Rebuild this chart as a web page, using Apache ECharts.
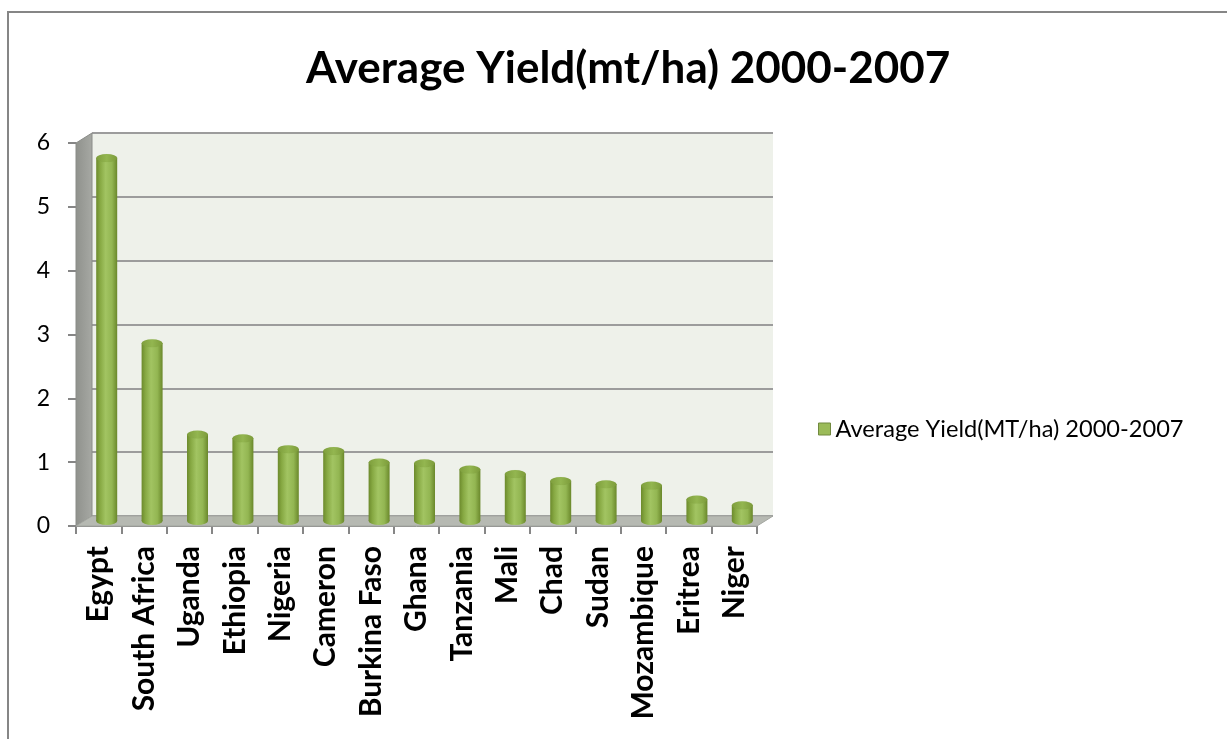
<!DOCTYPE html>
<html>
<head>
<meta charset="utf-8">
<title>Average Yield(mt/ha) 2000-2007</title>
<script src="https://cdn.jsdelivr.net/npm/echarts@6/dist/echarts.min.js"></script>
<style>
  html, body { margin: 0; padding: 0; background: #ffffff; }
  #chart { width: 1227px; height: 739px; }
</style>
</head>
<body>
<div id="chart"></div>
<script>
// Country names along the category axis
const countries = ['Egypt', 'South Africa', 'Uganda', 'Ethiopia', 'Nigeria', 'Cameron',
  'Burkina Faso', 'Ghana', 'Tanzania', 'Mali', 'Chad', 'Sudan', 'Mozambique', 'Eritrea', 'Niger'];
// Average yield, metric tonnes per hectare, 2000-2007
const yieldValues = [5.69, 2.79, 1.36, 1.30, 1.13, 1.10, 0.92, 0.91, 0.81, 0.74, 0.63, 0.58, 0.56, 0.34, 0.25];
const seriesName = 'Average Yield(MT/ha) 2000-2007';
const titleText = 'Average Yield(mt/ha) 2000-2007';
const yTicks = { min: 0, max: 6, interval: 1 };

// Plot box geometry: front plane, middle (bars) plane and back wall, shifted in depth
const FONT = 'Lato, "Open Sans", sans-serif';
const box = { left: 76, top: 143, width: 681, height: 383 };
const depth = { dx: 16, dy: -10 };

const gridFront = { left: box.left, top: box.top, width: box.width, height: box.height };
const gridMid = { left: box.left + depth.dx / 2, top: box.top + depth.dy / 2, width: box.width, height: box.height };
const gridBack = { left: box.left + depth.dx, top: box.top + depth.dy, width: box.width, height: box.height,
  show: true, backgroundColor: '#eef1ea', borderWidth: 0 };

const x0 = box.left, y0 = box.top + box.height, x1 = box.left + box.width, yTop = box.top;
const bx = depth.dx, by = depth.dy;

const barW = 21, capH = 8;
const sideGrad = new echarts.graphic.LinearGradient(0, 0, 1, 0, [
  { offset: 0, color: '#6c8a2c' }, { offset: 0.18, color: '#86a842' },
  { offset: 0.45, color: '#a2c462' }, { offset: 0.75, color: '#93b652' }, { offset: 1, color: '#6a882b' }
]);
const capGrad = new echarts.graphic.LinearGradient(0, 0, 1, 0, [
  { offset: 0, color: '#7e9e3c' }, { offset: 0.5, color: '#93b650' }, { offset: 1, color: '#7c9b3a' }
]);

const chart = echarts.init(document.getElementById('chart'), null, { renderer: 'canvas' });
chart.setOption({
  animation: false,
  backgroundColor: '#ffffff',
  title: {
    text: titleText, left: 301, top: 42,
    textStyle: { fontFamily: FONT, fontSize: 44, fontWeight: 'bold', color: '#000' }
  },
  legend: {
    left: 813, top: 412, itemWidth: 12, itemHeight: 12, itemGap: 6, icon: 'rect',
    data: [{ name: seriesName, itemStyle: { color: '#9bbb59', borderColor: '#71893f', borderWidth: 1 } }],
    textStyle: { fontFamily: FONT, fontSize: 23.6, color: '#000' }
  },
  grid: [gridFront, gridMid, gridBack],
  xAxis: [
    { type: 'category', gridIndex: 0, data: countries,
      axisLine: { show: true, lineStyle: { color: '#8a8a8a', width: 1 } },
      axisTick: { show: true, length: 8, alignWithLabel: false, lineStyle: { color: '#868686', width: 2 } },
      axisLabel: { rotate: 90, margin: 20, interval: 0, fontFamily: FONT, fontSize: 30, fontWeight: 'bold', color: '#000' } },
    { type: 'category', gridIndex: 1, data: countries, show: false },
    { type: 'category', gridIndex: 2, data: countries, show: false }
  ],
  yAxis: [
    { type: 'value', gridIndex: 0, min: yTicks.min, max: yTicks.max, interval: yTicks.interval,
      axisLine: { show: true, lineStyle: { color: '#8a8a8a', width: 1 } },
      axisTick: { show: true, length: 8, lineStyle: { color: '#868686', width: 2 } },
      splitLine: { show: false },
      axisLabel: { margin: 26, fontFamily: FONT, fontSize: 23, color: '#000' } },
    { type: 'value', gridIndex: 1, min: yTicks.min, max: yTicks.max, interval: yTicks.interval, show: false, splitLine: { show: false } },
    { type: 'value', gridIndex: 2, min: yTicks.min, max: yTicks.max, interval: yTicks.interval,
      axisLine: { show: false }, axisTick: { show: false }, axisLabel: { show: false },
      splitLine: { show: true, lineStyle: { color: '#9c9c9c', width: 2 } } }
  ],
  graphic: [
    // left side wall
    { type: 'polygon', z: 1, silent: true,
      shape: { points: [[x0, yTop], [x0 + bx, yTop + by], [x0 + bx, y0 + by], [x0, y0]] },
      style: { fill: new echarts.graphic.LinearGradient(0, 0, 1, 0, [
        { offset: 0, color: '#8f918c' }, { offset: 1, color: '#a7a9a4' }]), stroke: '#8a8c88', lineWidth: 1 } },
    // floor
    { type: 'polygon', z: 1, silent: true,
      shape: { points: [[x0, y0], [x0 + bx, y0 + by], [x1 + bx, y0 + by], [x1, y0]] },
      style: { fill: '#b6b9b2', stroke: '#a3a6a0', lineWidth: 1 } },
    // chart frame
    { type: 'rect', z: 0, silent: true,
      shape: { x: 8, y: 12, width: 1260, height: 780 },
      style: { fill: 'none', stroke: '#868686', lineWidth: 2 } }
  ],
  series: [
    { name: seriesName, type: 'bar', xAxisIndex: 1, yAxisIndex: 1, barWidth: barW, z: 3,
      itemStyle: { color: sideGrad }, data: yieldValues },
    { name: seriesName, type: 'pictorialBar', xAxisIndex: 1, yAxisIndex: 1, symbol: 'circle',
      symbolSize: [barW, capH], symbolOffset: [0, capH / 2], z: 2,
      itemStyle: { color: sideGrad }, data: yieldValues },
    { name: seriesName, type: 'pictorialBar', xAxisIndex: 1, yAxisIndex: 1, symbol: 'circle',
      symbolSize: [barW, capH], symbolPosition: 'end', symbolOffset: [0, -capH / 2], z: 4,
      itemStyle: { color: capGrad, borderColor: '#6f8d30', borderWidth: 1 }, data: yieldValues }
  ]
});
</script>
</body>
</html>
